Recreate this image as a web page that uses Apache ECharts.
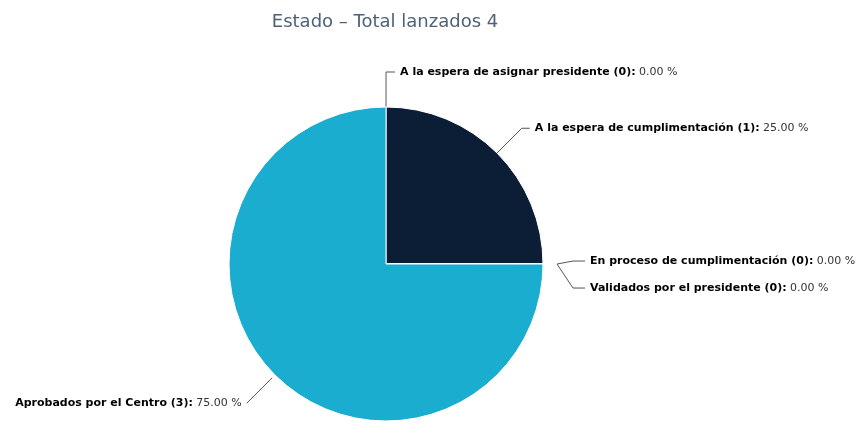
<!DOCTYPE html>
<html>
<head>
<meta charset="utf-8">
<script src="https://cdn.jsdelivr.net/npm/echarts@6/dist/echarts.min.js"></script>
<style>
  html, body { margin: 0; padding: 0; background: #ffffff; }
  #chart { width: 866px; height: 445px; }
</style>
</head>
<body>
<div id="chart"></div>
<script>
// Estados de los cuestionarios lanzados
const categories = [
  'A la espera de asignar presidente',
  'A la espera de cumplimentación',
  'En proceso de cumplimentación',
  'Validados por el presidente',
  'Aprobados por el Centro'
];
const counts = [0, 1, 0, 0, 3];
const colors = ['#2f7ed8', '#0b1e36', '#8bbc21', '#910000', '#1badd0'];
const titleText = 'Estado – Total lanzados 4';

const total = counts.reduce((a, b) => a + b, 0);

// connector lengths per slice: [radial, horizontal]
const connectors = [[35, 9], [35, 8], [30, 12], [30, 12], [40, 0]];
// extra vertical spread for labels that share the same angle
const labelShift = [0, 0, -3, 24, 0];
// distance between the slice edge and the start of each connector
const connectorGap = [0, 0, 14, 14, 4];

const chart = echarts.init(document.getElementById('chart'), null, { renderer: 'canvas' });

chart.setOption({
  animation: false,
  title: {
    text: titleText,
    left: 380,
    top: 8,
    textAlign: 'center',
    textStyle: {
      fontFamily: 'DejaVu Sans',
      fontSize: 18,
      fontWeight: 'normal',
      color: '#4f6275'
    }
  },
  series: [{
    type: 'pie',
    center: [386, 264],
    radius: 157,
    startAngle: 89.99,
    clockwise: true,
    avoidLabelOverlap: false,
    minShowLabelAngle: 0,
    stillShowZeroSum: true,
    itemStyle: { borderColor: '#ffffff', borderWidth: 1 },
    emphasis: { disabled: true },
    label: {
      show: true,
      position: 'outside',
      alignTo: 'none',
      formatter: function (p) {
        const pct = total ? (p.value / total * 100) : 0;
        return '{b|' + p.name + ' (' + p.value + '):} {v|' + pct.toFixed(2) + ' %}';
      },
      rich: {
        b: { fontFamily: 'DejaVu Sans', fontSize: 11, fontWeight: 'bold', color: '#000000' },
        v: { fontFamily: 'DejaVu Sans', fontSize: 11, color: '#333333' }
      }
    },
    labelLine: {
      show: true,
      lineStyle: { color: '#555555', width: 1 }
    },
    labelLayout: function (params) {
      const pts = params.labelLinePoints;
      if (!pts) return {};
      const p = pts.map(function (q) { return [q[0], q[1]]; });
      // pull the first point of the connector off the slice edge
      const gap = connectorGap[params.dataIndex];
      const dx = p[1][0] - p[0][0], dy = p[1][1] - p[0][1];
      const len = Math.sqrt(dx * dx + dy * dy) || 1;
      p[0][0] += dx / len * gap;
      p[0][1] += dy / len * gap;
      const s = labelShift[params.dataIndex];
      const out = { labelLinePoints: p };
      if (s) {
        p[1][1] += s;
        p[2][1] += s;
        out.x = params.labelRect.x;
        out.y = params.labelRect.y + params.labelRect.height / 2 + s;
        out.align = 'left';
        out.verticalAlign = 'middle';
      }
      return out;
    },
    data: categories.map((name, i) => ({
      name: name,
      value: counts[i],
      itemStyle: { color: colors[i] },
      labelLine: { length: connectors[i][0], length2: connectors[i][1] }
    }))
  }]
});
</script>
</body>
</html>
